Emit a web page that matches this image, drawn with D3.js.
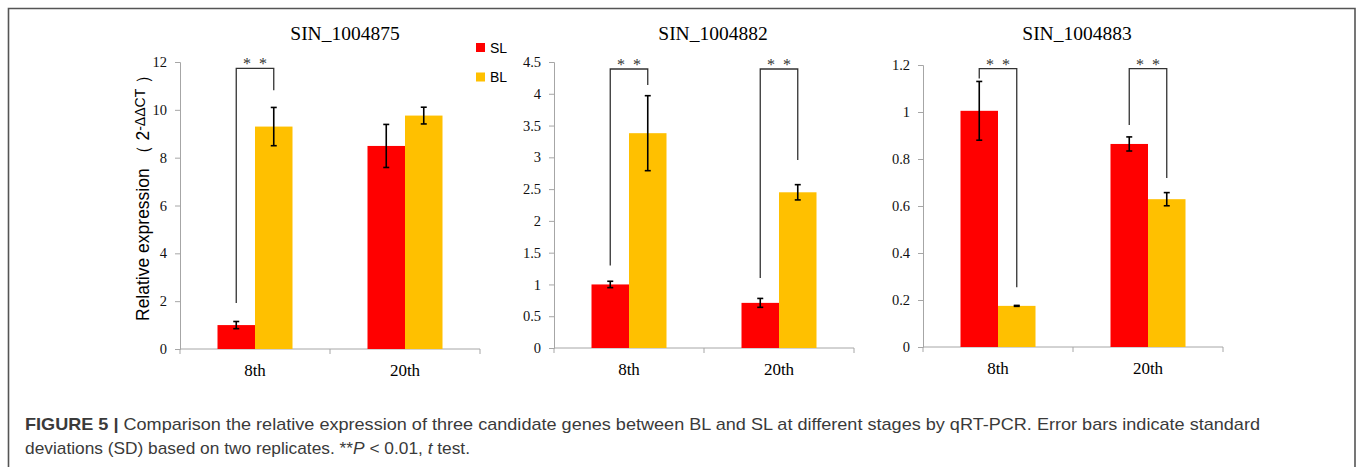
<!DOCTYPE html>
<html>
<head>
<meta charset="utf-8">
<script src="https://cdn.jsdelivr.net/npm/d3@7"></script>
<style>
  body { margin: 0; background: #fff; }
  svg { display: block; }
</style>
</head>
<body>
<script>
const width = 1357;
const height = 467;
const serif = '"Liberation Serif", "Times New Roman", serif';
const sans = '"Liberation Sans", Arial, sans-serif';

// data
const genes = ['SIN_1004875', 'SIN_1004882', 'SIN_1004883'];
const stages = ['8th', '20th'];
const series = ['SL', 'BL'];
const colors = ['#ff0000', '#ffc000'];

const slMean = [[1.00, 8.49], [1.00, 0.71], [1.005, 0.864]];
const slSD   = [[0.15, 0.90], [0.05, 0.07], [0.125, 0.03]];
const blMean = [[9.30, 9.76], [3.38, 2.45], [0.175, 0.629]];
const blSD   = [[0.80, 0.35], [0.59, 0.12], [0.002, 0.028]];

const yMax  = [12, 4.5, 1.2];
const yStep = [2, 0.5, 0.2];

// significance brackets: [stage index, left leg bottom, right leg bottom, bracket top]
const brackets = [
  [[0, 1.92, 10.82, 11.73]],
  [[0, 1.30, 4.14, 4.39], [1, 1.10, 2.96, 4.39]],
  [[0, 1.143, 0.254, 1.185], [1, 0.945, 0.719, 1.185]]
];

// panel layout
const panels = [
  { x0: 180, top: 62, bottom: 349, titleX: 345 },
  { x0: 554, top: 62, bottom: 348, titleX: 713 },
  { x0: 923, top: 65, bottom: 347, titleX: 1077 }
];
const plotW = 300;

const svg = d3.select('body').append('svg').attr('width', width).attr('height', height);

// frame
svg.append('path')
  .attr('d', `M8.5,${height} V8.5 H1355 V${height}`)
  .attr('fill', 'none')
  .attr('stroke', '#555')
  .attr('stroke-width', 1.6);

genes.forEach((gene, i) => {
  const p = panels[i];
  const g = svg.append('g');

  const x = d3.scaleBand().domain(stages).range([p.x0, p.x0 + plotW]).paddingInner(0.5).paddingOuter(0.25);
  const xs = d3.scaleBand().domain(series).range([0, x.bandwidth()]);
  const y = d3.scaleLinear().domain([0, yMax[i]]).range([p.bottom, p.top]);

  const ticks = d3.range(0, yMax[i] + yStep[i] / 2, yStep[i]);
  const yAxis = g.append('g')
    .attr('transform', `translate(${p.x0},0)`)
    .call(d3.axisLeft(y).tickValues(ticks).tickSize(5).tickPadding(8).tickFormat(d3.format('~g')));
  yAxis.select('.domain').attr('stroke', '#a6a6a6');
  yAxis.selectAll('.tick line').attr('stroke', '#a6a6a6');
  yAxis.selectAll('.tick text')
    .attr('fill', '#111')
    .style('font-family', serif)
    .style('font-size', '14.5px');

  // x axis with ticks between categories
  const xa = g.append('g').attr('transform', `translate(0,${p.bottom})`);
  xa.append('line').attr('x1', p.x0).attr('x2', p.x0 + plotW).attr('stroke', '#a6a6a6');
  [p.x0, p.x0 + plotW / 2, p.x0 + plotW].forEach(t => {
    xa.append('line').attr('x1', t).attr('x2', t).attr('y1', 0).attr('y2', 5).attr('stroke', '#a6a6a6');
  });
  xa.selectAll('text.cat').data(stages).enter().append('text')
    .attr('class', 'cat')
    .attr('x', d => x(d) + x.bandwidth() / 2)
    .attr('y', 27)
    .attr('text-anchor', 'middle')
    .attr('font-family', serif)
    .attr('font-size', 17)
    .text(d => d);

  // bars
  const rows = [];
  stages.forEach((s, j) => {
    rows.push({ stage: s, ser: 'SL', v: slMean[i][j], sd: slSD[i][j], c: colors[0] });
    rows.push({ stage: s, ser: 'BL', v: blMean[i][j], sd: blSD[i][j], c: colors[1] });
  });

  g.selectAll('rect.bar').data(rows).enter().append('rect')
    .attr('class', 'bar')
    .attr('x', d => x(d.stage) + xs(d.ser))
    .attr('width', xs.bandwidth())
    .attr('y', d => y(d.v))
    .attr('height', d => y(0) - y(d.v))
    .attr('fill', d => d.c);

  // error bars
  const eb = g.selectAll('g.err').data(rows).enter().append('g').attr('class', 'err')
    .attr('stroke', '#000').attr('stroke-width', 1.6);
  const cx = d => x(d.stage) + xs(d.ser) + xs.bandwidth() / 2;
  eb.append('line').attr('x1', cx).attr('x2', cx).attr('y1', d => y(d.v + d.sd)).attr('y2', d => y(d.v - d.sd));
  eb.append('line').attr('x1', d => cx(d) - 3).attr('x2', d => cx(d) + 3).attr('y1', d => y(d.v + d.sd)).attr('y2', d => y(d.v + d.sd));
  eb.append('line').attr('x1', d => cx(d) - 3).attr('x2', d => cx(d) + 3).attr('y1', d => y(d.v - d.sd)).attr('y2', d => y(d.v - d.sd));

  // significance brackets
  brackets[i].forEach(b => {
    const s = stages[b[0]];
    const xl = x(s) + xs('SL') + xs.bandwidth() / 2;
    const xr = x(s) + xs('BL') + xs.bandwidth() / 2;
    g.append('path')
      .attr('d', `M${xl},${y(b[1])} V${y(b[3])} H${xr} V${y(b[2])}`)
      .attr('fill', 'none')
      .attr('stroke', '#333')
      .attr('stroke-width', 1.3);
    g.append('text')
      .attr('x', (xl + xr) / 2)
      .attr('y', y(b[3]) + 1)
      .attr('text-anchor', 'middle')
      .attr('font-family', serif)
      .attr('font-size', 16)
      .attr('fill', '#333')
      .text('*\u2002*');
  });

  // title
  svg.append('text')
    .attr('x', p.titleX)
    .attr('y', 40)
    .attr('text-anchor', 'middle')
    .attr('font-family', serif)
    .attr('font-size', 19.5)
    .text(gene);
});

// y axis label (first panel)
const yl = svg.append('text')
  .attr('transform', 'translate(149,321) rotate(-90)')
  .attr('text-anchor', 'start')
  .attr('font-family', sans)
  .attr('font-size', 17.5);
yl.append('tspan').text('Relative expression （ 2');
yl.append('tspan').attr('font-size', 14).attr('dy', -4).text('-ΔΔCT');
yl.append('tspan').attr('dy', 4).text(' ）');

// legend
const leg = svg.append('g').attr('transform', 'translate(476,43)');
series.forEach((s, k) => {
  leg.append('rect').attr('x', 0).attr('y', k * 29.5).attr('width', 9).attr('height', 9).attr('fill', colors[k]);
  leg.append('text')
    .attr('x', 14).attr('y', k * 29.5 + 9.5)
    .attr('font-family', sans)
    .attr('font-size', 14)
    .text(s);
});

// caption
const cap = svg.append('g')
  .attr('font-family', sans)
  .attr('font-size', 17)
  .attr('fill', '#3a3a3a');
const l1 = cap.append('text').attr('x', 25).attr('y', 430)
  .attr('textLength', 1235).attr('lengthAdjust', 'spacingAndGlyphs');
l1.append('tspan').attr('font-weight', 'bold').text('FIGURE 5 | ');
l1.append('tspan').text('Comparison the relative expression of three candidate genes between BL and SL at different stages by qRT-PCR. Error bars indicate standard');
const l2 = cap.append('text').attr('x', 25).attr('y', 454)
  .attr('textLength', 445).attr('lengthAdjust', 'spacingAndGlyphs');
l2.append('tspan').text('deviations (SD) based on two replicates. **');
l2.append('tspan').attr('font-style', 'italic').text('P');
l2.append('tspan').text(' <  0.01, ');
l2.append('tspan').attr('font-style', 'italic').text('t');
l2.append('tspan').text(' test.');
</script>
</body>
</html>
